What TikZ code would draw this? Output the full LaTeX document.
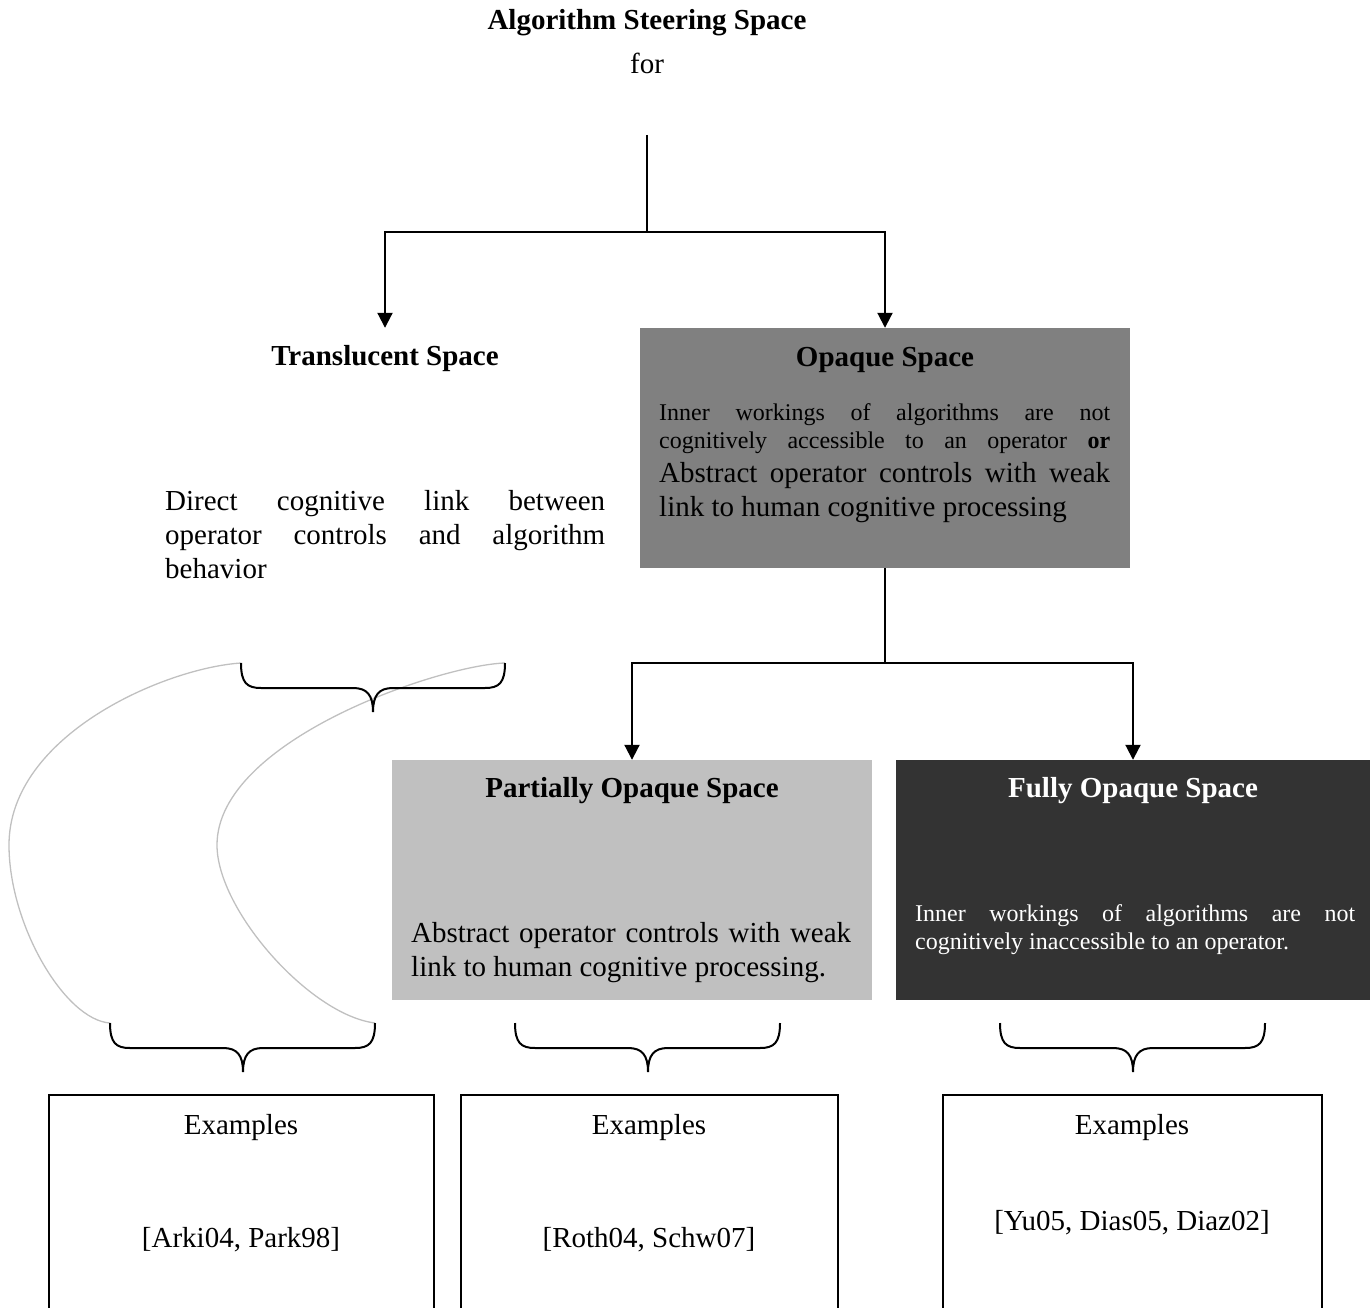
\documentclass[tikz,border=0pt]{standalone}
\usepackage{fontspec}
\setmainfont{Liberation Serif}
\usetikzlibrary{arrows.meta}
\definecolor{opgray}{HTML}{808080}
\definecolor{pgray}{HTML}{C0C0C0}
\definecolor{fgray}{HTML}{333333}
\definecolor{arcgray}{HTML}{C0C0C0}
\newcommand\curlybr[4]{% x1, xm, x2, ytop
  \draw[brc] (#1,#4) .. controls (#1,{#4+20}) and ({#1+6},{#4+25}) .. ({#1+20},{#4+25})
    -- ({#2-20},{#4+25}) .. controls ({#2-6},{#4+25}) and (#2,{#4+32}) .. (#2,{#4+49})
    .. controls (#2,{#4+32}) and ({#2+6},{#4+25}) .. ({#2+20},{#4+25})
    -- ({#3-20},{#4+25}) .. controls ({#3-6},{#4+25}) and (#3,{#4+20}) .. (#3,#4);}
\tikzset{
  big/.style={font=\fontsize{29}{34}\selectfont},
  bigb/.style={font=\fontsize{29}{34}\selectfont\bfseries},
  small/.style={font=\fontsize{24}{27}\selectfont},
  txt/.style={inner sep=0pt, anchor=base},
  txtl/.style={inner sep=0pt, anchor=base west},
  conn/.style={line width=2pt},
  arr/.style={line width=2pt, -{Triangle[width=15pt,length=15pt]}},
  brc/.style={line width=2pt},
  arcline/.style={draw=arcgray, line width=1.3pt},
  spacebox/.style={rectangle, inner sep=0pt, minimum height=240pt},
  exbox/.style={draw, line width=2pt, rectangle, inner sep=0pt, minimum height=240pt}
}
\begin{document}
\begin{tikzpicture}[x=1pt,y=-1pt]
\useasboundingbox (0,0) rectangle (1370,1308);
\clip (0,0) rectangle (1370,1308);
% title
\node[bigb,txt] (title) at (647,30) {Algorithm Steering Space};
\node[big,txt] (forn) at (647,74) {for};
\coordinate (root) at (647,135);
\coordinate (split1) at (647,232);
% level 1 boxes
\node[spacebox, minimum width=490pt] (transl) at (385,448) {};
\node[spacebox, minimum width=490pt, fill=opgray] (opaque) at (885,448) {};
\draw[conn] (root) -- (split1);
\draw[arr] (split1) -| (transl.north);
\draw[arr] (split1) -| (opaque.north);
% translucent text
\node[bigb,txt] (tlt) at (385,365) {Translucent Space};
\node[big,txtl] (tl1) at (165,510) {\makebox[440pt][s]{Direct cognitive link between}};
\node[big,txtl] (tl2) at (165,544) {\makebox[440pt][s]{operator controls and algorithm}};
\node[big,txtl] (tl3) at (165,578) {behavior};
% opaque text
\node[bigb,txt] (opt) at (885,366) {Opaque Space};
\node[small,txtl] (op1) at (659,420) {\makebox[451pt][s]{Inner workings of algorithms are not}};
\node[small,txtl] (op2) at (659,448) {\makebox[451pt][s]{cognitively accessible to an operator \textbf{or}}};
\node[big,txtl] (op3) at (659,482) {\makebox[451pt][s]{Abstract operator controls with weak}};
\node[big,txtl] (op4) at (659,516) {link to human cognitive processing};
% level 2
\node[spacebox, minimum width=480pt, fill=pgray] (partial) at (632,880) {};
\node[spacebox, minimum width=474pt, fill=fgray] (fully) at (1133,880) {};
\coordinate (split2) at (885,663);
\draw[conn] (opaque.south) -- (split2);
\draw[arr] (split2) -| (partial.north);
\draw[arr] (split2) -| (fully.north);
\node[bigb,txt] (pt) at (632,797) {Partially Opaque Space};
\node[big,txtl] (p1) at (411,942) {\makebox[440pt][s]{Abstract operator controls with weak}};
\node[big,txtl] (p2) at (411,976) {link to human cognitive processing.};
\node[bigb,txt,text=white] (ft) at (1133,797) {Fully Opaque Space};
\node[small,txtl,text=white] (f1) at (915,921) {\makebox[440pt][s]{Inner workings of algorithms are not}};
\node[small,txtl,text=white] (f2) at (915,949) {cognitively inaccessible to an operator.};
% gray arcs
\draw[arcline] (241,663) .. controls (165,668) and (9,735) .. (9,845)
  .. controls (9,925) and (65,1020) .. (110,1023);
\draw[arcline] (505,663) .. controls (440,665) and (217,740) .. (217,845)
  .. controls (217,910) and (310,1015) .. (375,1023);
% braces
\curlybr{241}{373}{505}{663}
\curlybr{110}{243}{375}{1023}
\curlybr{515}{648}{780}{1023}
\curlybr{1000}{1133}{1265}{1023}
% example boxes
\node[exbox, minimum width=385pt] (ex1) at (241.5,1215) {};
\node[exbox, minimum width=377pt] (ex2) at (649.5,1215) {};
\node[exbox, minimum width=379pt] (ex3) at (1132.5,1215) {};
\node[big,txt] (ex1a) at (241,1134) {Examples};
\node[big,txt] (ex1b) at (241,1247) {[Arki04, Park98]};
\node[big,txt] (ex2a) at (649,1134) {Examples};
\node[big,txt] (ex2b) at (649,1247) {[Roth04, Schw07]};
\node[big,txt] (ex3a) at (1132,1134) {Examples};
\node[big,txt] (ex3b) at (1132,1230) {[Yu05, Dias05, Diaz02]};
\end{tikzpicture}
\end{document}
